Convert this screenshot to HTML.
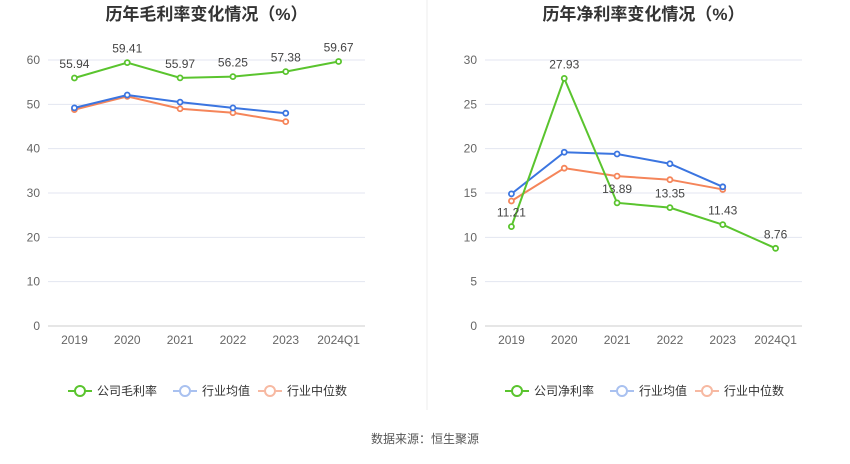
<!DOCTYPE html>
<html><head><meta charset="utf-8"><style>
body{margin:0;background:#fff;width:850px;height:459px;overflow:hidden;font-family:"Liberation Sans","Noto Sans CJK SC",sans-serif}
svg text{font-family:"Liberation Sans","Noto Sans CJK SC",sans-serif}
</style></head><body>
<svg id="c" width="850" height="459">
<line x1="427" y1="0" x2="427" y2="410" stroke="#eee"/>
<text x="425" y="443" text-anchor="middle" font-size="12" fill="#555">数据来源：恒生聚源</text>
</svg>
<script>
const categories=["2019","2020","2021","2022","2023","2024Q1"];
const grossCompany=[55.94,59.41,55.97,56.25,57.38,59.67];
const grossAvg=[49.2,52.1,50.5,49.2,48.0];
const grossMedian=[48.8,51.8,49.0,48.1,46.1];
const grossTicks=[0,10,20,30,40,50,60];
const netCompany=[11.21,27.93,13.89,13.35,11.43,8.76];
const netAvg=[14.9,19.6,19.4,18.3,15.7];
const netMedian=[14.1,17.8,16.9,16.5,15.4];
const netTicks=[0,5,10,15,20,25,30];
const NS="http://www.w3.org/2000/svg";
const svg=document.getElementById('c');
function mk(t,a,txt){const e=document.createElementNS(NS,t);for(const k in a)e.setAttribute(k,a[k]);if(txt!=null)e.textContent=txt;svg.appendChild(e);return e;}
function chart(o){
 const x0=o.left,x1=o.right,yTop=60,yBot=326,max=o.ticks[o.ticks.length-1];
 const step=(x1-x0)/categories.length;
 const xs=i=>x0+step*(i+0.5);
 const ys=v=>yBot-(v/max)*(yBot-yTop);
 let t=mk('text',{x:(x0+x1)/2,y:20,'text-anchor':'middle','font-size':17,'font-weight':'bold',fill:'#333'},o.title);
 
 
 o.ticks.forEach(v=>{
  let l=mk('line',{x1:x0,x2:x1,y1:ys(v),y2:ys(v),stroke:v===0?'#ccc':'#e3e6f0'});
  
  
  let tt=mk('text',{x:x0-8,y:ys(v)+4,'text-anchor':'end','font-size':12,fill:'#666'},v);
  
  
 });
 categories.forEach((c,i)=>{
  let tt=mk('text',{x:xs(i),y:344,'text-anchor':'middle','font-size':12,fill:'#666'},c);
  
  
 });
 const series=[[o.median,'#f5855a','industry-median-line'],[o.avg,'#3b75e0','industry-average-line'],[o.company,'#5ac42e','company-line']];
 series.forEach(([d,col,name])=>{
  let p=mk('polyline',{points:d.map((v,i)=>xs(i)+','+ys(v)).join(' '),fill:'none',stroke:col,'stroke-width':2});
  
  
  d.forEach((v,i)=>{
   let c=mk('circle',{cx:xs(i),cy:ys(v),r:2.5,fill:'#fff',stroke:col,'stroke-width':1.8});
   
   
  });
 });
 o.company.forEach((v,i)=>{
  const dy=o.below&&o.below[i]?22:-10;
  let tt=mk('text',{x:xs(i),y:ys(v)+dy,'text-anchor':'middle','font-size':12,fill:'#444'},v.toFixed(2));
  
  
 });
 const ly=391;
 [[o.legend,'#5ac42e',o.lx],['行业均值','#a9c1f0',o.lx+105],['行业中位数','#f7b9a2',o.lx+190]].forEach(([lab,col,lx],k)=>{
  let l=mk('line',{x1:lx,x2:lx+24,y1:ly,y2:ly,stroke:col,'stroke-width':2});
  
  
  let c=mk('circle',{cx:lx+12,cy:ly,r:5,fill:'#fff',stroke:col,'stroke-width':2});
  
  
  let tt=mk('text',{x:lx+29,y:ly+4,'font-size':12,fill:'#333'},lab);
  
  
 });
}
chart({left:48,right:365,ticks:grossTicks,company:grossCompany,avg:grossAvg,median:grossMedian,title:'历年毛利率变化情况（%）',legend:'公司毛利率',lx:68});
chart({left:485,right:802,ticks:netTicks,company:netCompany,avg:netAvg,median:netMedian,title:'历年净利率变化情况（%）',legend:'公司净利率',lx:505,below:[false,false,false,false,false,false]});
// adjust net label positions: 11.21 and 13.89 labels sit above-left of points
</script>
</body></html>
